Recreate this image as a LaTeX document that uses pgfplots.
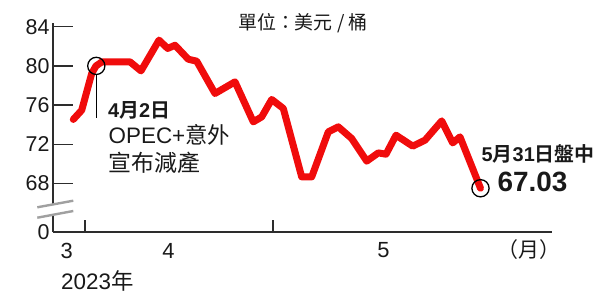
\documentclass[border=0pt]{standalone}
\usepackage{fontspec}
\setmainfont{Liberation Sans}
\newfontfamily\cjk{Noto Sans CJK TC}[BoldFont={Noto Sans CJK TC Bold}]
\usepackage{pgfplots}
\pgfplotsset{compat=1.18}
\definecolor{lred}{RGB}{240,12,12}
\definecolor{axgray}{RGB}{45,45,45}
\definecolor{txt}{RGB}{25,25,25}
\definecolor{brk}{RGB}{160,160,160}
\begin{document}
\begin{tikzpicture}
\path[use as bounding box] (0,0) rectangle (601bp,295bp);
\begin{axis}[
  at={(53bp,63bp)}, anchor=south west,
  scale only axis, width=499bp, height=208.7bp,
  xmin=53, xmax=552, ymin=63.03, ymax=84.35,
  axis lines*=left,
  axis line style={color=axgray, line width=1.3bp},
  clip=false,
  ytick={63.03,68,72,76,80,84},
  yticklabels={0,68,72,76,80,84},
  tick align=inside,
  major tick length=20bp,
  tick style={color=axgray, line width=1.3bp},
  xtick=\empty,
  extra x ticks={85,273},
  extra x tick labels={},
  extra x tick style={major tick length=12bp, tick align=inside},
  yticklabel style={font=\fontsize{21.5}{21.5}\selectfont, text=txt},
  /pgf/number format/assume math mode=true,
]
\addplot[color=lred, line width=7bp, line cap=round, line join=round, mark=none] coordinates {
(73.3,74.53) (81.7,75.47) (91.7,79.22) (96,80.0) (102,80.41) (130,80.41)
(141,79.49) (159,82.63) (167.7,81.78) (175,82.11) (188.3,80.68) (196.7,80.48)
(215,77.18) (235,78.37) (253.3,74.28) (261.7,74.79) (271.7,76.57) (283.3,75.65)
(301.7,68.66) (311.7,68.66) (328.3,73.26) (338.3,73.77) (351.7,72.58)
(366.7,70.27) (378.3,71.11) (386,70.98) (396,72.92) (412.7,71.80) (425,72.41)
(441.7,74.38) (452.7,72.13) (460,72.75) (480.5,67.5)
};
\addplot[only marks, mark=o, mark size=8.6bp, mark options={black, line width=1.3bp}] coordinates {
(96.3,80.0) (480.5,67.5)
};
\draw[black, line width=1.2bp] (axis cs:96.2,79.12) -- (axis cs:96.2,74.66);
\end{axis}
% axis break
\fill[white] (36bp,87.2bp) -- (75bp,94.6bp) -- (75bp,83.8bp) -- (36bp,76.8bp) -- cycle;
\draw[brk, line width=2.4bp] (37.3bp,87.7bp) -- (73.3bp,94.3bp);
\draw[brk, line width=2.4bp] (37.3bp,77.3bp) -- (73.3bp,84bp);
% texts
\node[anchor=west, inner sep=0pt, text=txt, font=\fontsize{19}{19}\selectfont\cjk] at (238bp,272bp) {單位：美元 / 桶};
\node[anchor=west, inner sep=0pt, text=txt, font=\fontsize{20}{20}\selectfont\bfseries] at (108bp,185bp) {4{\cjk 月}2{\cjk 日}};
\node[anchor=west, inner sep=0pt, text=txt, font=\fontsize{22.5}{22.5}\selectfont] at (108.5bp,160bp) {OPEC+{\cjk 意外}};
\node[anchor=west, inner sep=0pt, text=txt, font=\fontsize{23}{23}\selectfont\cjk] at (108.5bp,132bp) {宣布減產};
\node[anchor=west, inner sep=0pt, text=txt, font=\fontsize{20}{20}\selectfont\bfseries] at (481.5bp,141bp) {5{\cjk 月}31{\cjk 日盤中}};
\node[anchor=west, inner sep=0pt, text=txt, font=\fontsize{28}{28}\selectfont\bfseries] at (497.5bp,113bp) {67.03};
\node[inner sep=0pt, text=txt, font=\fontsize{22}{22}\selectfont] at (66.7bp,44.5bp) {3};
\node[inner sep=0pt, text=txt, font=\fontsize{22}{22}\selectfont] at (168.5bp,44.5bp) {4};
\node[inner sep=0pt, text=txt, font=\fontsize{22}{22}\selectfont] at (383.5bp,44.5bp) {5};
\node[inner sep=0pt, text=txt, font=\fontsize{21}{21}\selectfont\cjk] at (529bp,45bp) {（月）};
\node[anchor=west, inner sep=0pt, text=txt, font=\fontsize{22.5}{22.5}\selectfont] at (61bp,14bp) {2023{\cjk 年}};
\end{tikzpicture}
\end{document}
